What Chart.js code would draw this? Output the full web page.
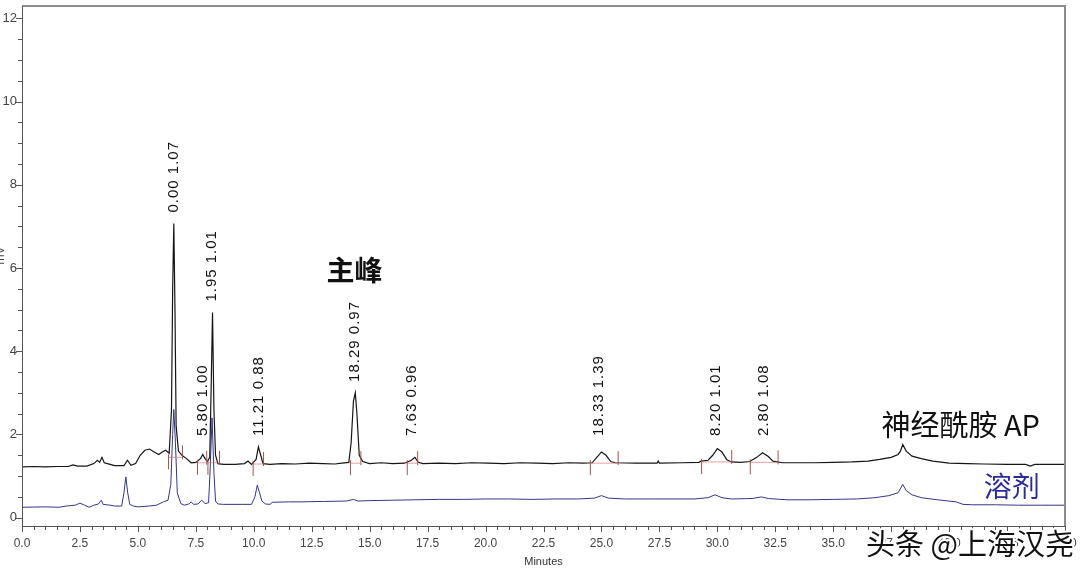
<!DOCTYPE html>
<html>
<head>
<meta charset="utf-8">
<script src="https://cdn.jsdelivr.net/npm/chart.js@4/dist/chart.umd.min.js"></script>
<style>
  html, body { margin: 0; padding: 0; background: #fff; }
  #wrap { width: 1080px; height: 573px; position: relative; }
</style>
</head>
<body>
<div id="wrap"><canvas id="graph"></canvas></div>
<script>
// sample trace (black), minutes / mV
var sampleTime = [0, 0.5, 1.0, 1.5, 2.0, 2.2, 2.4, 2.8, 3.1, 3.25, 3.35, 3.45, 3.55, 3.8, 4.0, 4.4, 4.55, 4.7, 4.9,
  5.1, 5.3, 5.5, 5.7, 5.9, 6.05, 6.2, 6.35, 6.45, 6.5, 6.55, 6.6, 6.65, 6.75, 6.9, 7.1, 7.3, 7.5, 7.7, 7.8, 7.9,
  8.0, 8.1, 8.15, 8.22, 8.28, 8.35, 8.45, 8.7, 9.2, 9.6, 9.75, 9.9, 10.1, 10.2, 10.3, 10.4, 10.7, 11.2, 11.8, 12.4,
  13.0, 13.5, 13.8, 14.1, 14.2, 14.3, 14.38, 14.45, 14.55, 14.7, 15.0, 15.5, 16.0, 16.5, 16.8, 16.95, 17.1, 17.3,
  18.0, 18.7, 19.4, 20.1, 20.8, 21.5, 22.2, 22.9, 23.6, 24.2, 24.6, 24.8, 25.0, 25.2, 25.4, 25.6, 26.5, 27.4, 27.45,
  27.5, 28.5, 29.2, 29.3, 29.6, 29.8, 30.0, 30.2, 30.4, 30.6, 31.0, 31.4, 31.7, 31.95, 32.2, 32.4, 32.8, 33.5, 34.2,
  35.0, 35.8, 36.5, 37.0, 37.5, 37.8, 37.9, 38.0, 38.15, 38.4, 38.8, 39.3, 40.0, 40.8, 41.5, 42.5, 43.3, 43.5, 43.7,
  44.5, 45.0];
var sampleSignal = [1.22, 1.23, 1.22, 1.23, 1.23, 1.27, 1.24, 1.24, 1.30, 1.38, 1.33, 1.45, 1.32, 1.28, 1.25, 1.25, 1.38, 1.26, 1.30,
  1.50, 1.62, 1.65, 1.58, 1.52, 1.58, 1.62, 1.55, 2.60, 5.50, 7.07, 5.00, 2.20, 1.60, 1.50, 1.42, 1.32, 1.33, 1.42, 1.52, 1.42,
  1.35, 1.45, 2.80, 4.93, 2.60, 1.50, 1.30, 1.28, 1.28, 1.30, 1.36, 1.28, 1.40, 1.70, 1.50, 1.30, 1.28, 1.30, 1.29, 1.31,
  1.30, 1.29, 1.31, 1.33, 1.80, 2.80, 3.00, 2.50, 1.50, 1.35, 1.30, 1.32, 1.30, 1.31, 1.38, 1.45, 1.33, 1.30,
  1.31, 1.30, 1.32, 1.31, 1.30, 1.32, 1.31, 1.30, 1.32, 1.31, 1.32, 1.45, 1.58, 1.50, 1.35, 1.32, 1.31, 1.31, 1.36,
  1.31, 1.32, 1.33, 1.36, 1.38, 1.50, 1.66, 1.58, 1.40, 1.34, 1.33, 1.35, 1.45, 1.56, 1.47, 1.36, 1.32, 1.32, 1.32,
  1.33, 1.34, 1.36, 1.40, 1.45, 1.52, 1.60, 1.76, 1.60, 1.48, 1.42, 1.36, 1.31, 1.30, 1.29, 1.28, 1.28, 1.24, 1.28,
  1.28, 1.28];

// solvent trace (blue)
var solventTime = [0, 1.0, 1.6, 1.9, 2.3, 2.5, 2.7, 2.9, 3.1, 3.3, 3.42, 3.5, 3.8, 4.0, 4.3, 4.4, 4.48, 4.56, 4.65, 4.8,
  5.0, 5.5, 5.8, 6.1, 6.3, 6.42, 6.5, 6.55, 6.62, 6.7, 6.85, 7.0, 7.2, 7.3, 7.4, 7.6, 7.75, 7.9, 8.05, 8.12, 8.2,
  8.28, 8.35, 8.45, 8.7, 9.5, 9.9, 10.05, 10.15, 10.25, 10.35, 10.5, 10.7, 10.8, 11.5, 12.0, 13.0, 14.0, 14.3, 14.5,
  15.0, 16.0, 17.0, 18.0, 19.0, 20.0, 21.0, 22.0, 23.0, 24.0, 24.7, 25.0, 25.3, 26.0, 27.0, 28.0, 29.0, 29.6, 29.9,
  30.2, 30.6, 31.5, 31.9, 32.2, 33.0, 34.0, 35.0, 36.0, 36.8, 37.4, 37.8, 38.0, 38.15, 38.4, 38.8, 39.5, 40.3, 40.6,
  41.0, 42.0, 43.0, 44.0, 45.0];
var solventSignal = [0.25, 0.26, 0.25, 0.28, 0.30, 0.35, 0.30, 0.25, 0.30, 0.33, 0.42, 0.32, 0.30, 0.28, 0.28, 0.60, 0.98, 0.60, 0.32, 0.28,
  0.26, 0.28, 0.30, 0.38, 0.42, 0.80, 2.00, 2.60, 1.80, 0.60, 0.34, 0.30, 0.33, 0.38, 0.32, 0.33, 0.42, 0.34, 0.36, 1.20, 2.40,
  1.10, 0.40, 0.33, 0.32, 0.32, 0.32, 0.50, 0.78, 0.60, 0.40, 0.33, 0.32, 0.37, 0.38, 0.38, 0.39, 0.40, 0.44, 0.40,
  0.41, 0.42, 0.43, 0.44, 0.44, 0.45, 0.45, 0.44, 0.45, 0.45, 0.47, 0.53, 0.47, 0.45, 0.45, 0.45, 0.45, 0.48, 0.55,
  0.48, 0.45, 0.46, 0.50, 0.46, 0.43, 0.43, 0.44, 0.45, 0.48, 0.53, 0.60, 0.80, 0.65, 0.55, 0.48, 0.43, 0.38, 0.32,
  0.31, 0.31, 0.30, 0.30, 0.30];

// peak labels on the sample trace
var peakLabelTime = [6.55, 7.8, 8.2, 10.2, 14.38, 16.8, 24.9, 29.95, 32.0];
var peakLabelText = ["0.00 1.07", "5.80 1.00", "1.95 1.01", "11.21 0.88", "18.29 0.97", "7.63 0.96", "18.33 1.39", "8.20 1.01", "2.80 1.08"];

// integration marks (red)
var integStart = [6.3, 7.55, 8.0, 9.95, 14.15, 16.6, 24.5, 29.3, 31.4];
var integEnd = [6.9, 7.95, 8.5, 10.4, 14.6, 17.05, 25.7, 30.6, 32.6];
var integLevel = [1.45, 1.32, 1.32, 1.29, 1.31, 1.31, 1.31, 1.34, 1.33];

var xTicks = [0, 2.5, 5, 7.5, 10, 12.5, 15, 17.5, 20, 22.5, 25, 27.5, 30, 32.5, 35, 37.5, 40, 42.5, 45];
var yTicks = [0, 2, 4, 6, 8, 10, 12];

function pts(t, v) {
  return t.map(function (x, i) { return { x: x, y: v[i] }; });
}

var extras = {
  id: "extras",
  afterDatasetsDraw: function (chart) {
    var ctx = chart.ctx, xs = chart.scales.x, ys = chart.scales.y;
    ctx.save();
    // integration marks
    for (var i = 0; i < integStart.length; i++) {
      var x1 = xs.getPixelForValue(integStart[i]), x2 = xs.getPixelForValue(integEnd[i]);
      var yl = ys.getPixelForValue(integLevel[i]);
      ctx.strokeStyle = "rgba(220,120,120,0.7)";
      ctx.lineWidth = 1;
      ctx.beginPath(); ctx.moveTo(x1, yl); ctx.lineTo(x2, yl); ctx.stroke();
      ctx.strokeStyle = "#a85050";
      ctx.beginPath();
      ctx.moveTo(x1 + 0.5, yl - 3); ctx.lineTo(x1 + 0.5, yl + 12);
      ctx.moveTo(x2 + 0.5, yl + 2); ctx.lineTo(x2 + 0.5, yl - 12);
      ctx.stroke();
    }
    // peak labels
    ctx.fillStyle = "#111";
    ctx.font = "15px 'Liberation Sans', Arial, sans-serif";
    ctx.letterSpacing = "1px";
    ctx.textAlign = "left";
    ctx.textBaseline = "middle";
    for (var j = 0; j < peakLabelTime.length; j++) {
      var top = 0;
      for (var k = 0; k < sampleTime.length; k++) {
        if (Math.abs(sampleTime[k] - peakLabelTime[j]) <= 0.15 && sampleSignal[k] > top) top = sampleSignal[k];
      }
      var px = xs.getPixelForValue(peakLabelTime[j]);
      var py = ys.getPixelForValue(Math.max(top, 1.7)) - 11;
      ctx.save();
      ctx.translate(px, py);
      ctx.rotate(-Math.PI / 2);
      ctx.fillText(peakLabelText[j], 0, 0);
      ctx.restore();
    }
    ctx.letterSpacing = "0px";
    // annotations
    ctx.textAlign = "center";
    ctx.fillStyle = "#111";
    ctx.font = "bold 28px 'Noto Sans CJK SC', sans-serif";
    ctx.fillText("主峰", xs.getPixelForValue(14.35), ys.getPixelForValue(5.95));
    ctx.font = "29px 'Noto Sans CJK SC', sans-serif";
    ctx.fillText("神经酰胺 AP", xs.getPixelForValue(40.5), ys.getPixelForValue(2.22));
    ctx.font = "28px 'Noto Sans CJK SC', sans-serif";
    ctx.fillStyle = "#2a2a9c";
    ctx.fillText("溶剂", xs.getPixelForValue(42.7), ys.getPixelForValue(0.75));
    ctx.restore();
  },
  afterDraw: function (chart) {
    var ctx = chart.ctx, xs = chart.scales.x, ys = chart.scales.y, a = chart.chartArea;
    ctx.save();
    // frame
    ctx.strokeStyle = "#8c8c8c";
    ctx.lineWidth = 2;
    ctx.beginPath();
    ctx.moveTo(a.left, a.top); ctx.lineTo(a.right, a.top); ctx.lineTo(a.right, a.bottom);
    ctx.stroke();
    ctx.strokeStyle = "#555";
    ctx.lineWidth = 1;
    ctx.beginPath();
    ctx.moveTo(a.left + 0.5, a.top); ctx.lineTo(a.left + 0.5, a.bottom + 0.5); ctx.lineTo(a.right, a.bottom + 0.5);
    ctx.stroke();
    // tick marks
    ctx.beginPath();
    for (var v = 0; v <= 45.001; v += 0.5) {
      var px = Math.round(xs.getPixelForValue(v)) + 0.5;
      var major = Math.abs(v / 2.5 - Math.round(v / 2.5)) < 1e-6;
      ctx.moveTo(px, a.bottom); ctx.lineTo(px, a.bottom + (major ? 6 : 4));
    }
    for (var w = 0; w <= 12.001; w += 0.5) {
      var py = Math.round(ys.getPixelForValue(w)) + 0.5;
      var maj = Math.abs(w / 2 - Math.round(w / 2)) < 1e-6;
      ctx.moveTo(a.left, py); ctx.lineTo(a.left - (maj ? 6 : 4), py);
    }
    ctx.stroke();
    // y axis title, mostly off the edge
    ctx.save();
    ctx.translate(1, ys.getPixelForValue(6.3));
    ctx.rotate(-Math.PI / 2);
    ctx.fillStyle = "#444";
    ctx.font = "12px 'Liberation Sans', Arial, sans-serif";
    ctx.textAlign = "center";
    ctx.textBaseline = "middle";
    ctx.fillText("mV", 0, 0);
    ctx.restore();
    // watermark
    ctx.font = "29px 'Noto Sans CJK SC', sans-serif";
    ctx.textAlign = "center";
    ctx.textBaseline = "middle";
    ctx.lineJoin = "round";
    ctx.strokeStyle = "#fff";
    ctx.lineWidth = 4;
    ctx.strokeText("头条 @上海汉尧", 970, 544);
    ctx.fillStyle = "#111";
    ctx.fillText("头条 @上海汉尧", 970, 544);
    ctx.restore();
  }
};

var config = {
  type: "line",
  data: {
    datasets: [{
      label: "sample",
      data: pts(sampleTime, sampleSignal),
      borderColor: "#151515",
      borderWidth: 1.2,
      pointRadius: 0,
      tension: 0
    }, {
      label: "solvent",
      data: pts(solventTime, solventSignal),
      borderColor: "#34348c",
      borderWidth: 1,
      pointRadius: 0,
      tension: 0
    }]
  },
  options: {
    responsive: true,
    maintainAspectRatio: false,
    animation: false,
    devicePixelRatio: 1,
    layout: { padding: { top: 6, right: 15, left: 0, bottom: 0 } },
    plugins: { legend: { display: false }, tooltip: { enabled: false } },
    scales: {
      x: {
        type: "linear",
        min: 0,
        max: 45,
        afterBuildTicks: function (s) { s.ticks = xTicks.map(function (v) { return { value: v }; }); },
        afterFit: function (s) { s.height = 47; s.paddingLeft = 0; s.paddingRight = 0; },
        grid: { drawOnChartArea: false, drawTicks: false },
        border: { display: false },
        ticks: {
          autoSkip: false,
          maxRotation: 0,
          padding: 10,
          color: "#444",
          font: { family: "'Liberation Sans', Arial, sans-serif", size: 12 },
          callback: function (v) { return Number(v).toFixed(1); }
        },
        title: {
          display: true,
          text: "Minutes",
          color: "#333",
          font: { family: "'Liberation Sans', Arial, sans-serif", size: 11 },
          padding: { top: 0, bottom: 4 }
        }
      },
      y: {
        type: "linear",
        min: -0.2,
        max: 12.3,
        afterBuildTicks: function (s) { s.ticks = yTicks.map(function (v) { return { value: v }; }); },
        afterFit: function (s) { s.width = 22; s.paddingTop = 0; s.paddingBottom = 0; },
        grid: { drawOnChartArea: false, drawTicks: false },
        border: { display: false },
        ticks: {
          padding: 5,
          color: "#444",
          font: { family: "'Liberation Sans', Arial, sans-serif", size: 13 },
          callback: function (v) { return String(v); }
        }
      }
    }
  },
  plugins: [extras]
};
new Chart(document.getElementById("graph"), config);
</script>
</body>
</html>
